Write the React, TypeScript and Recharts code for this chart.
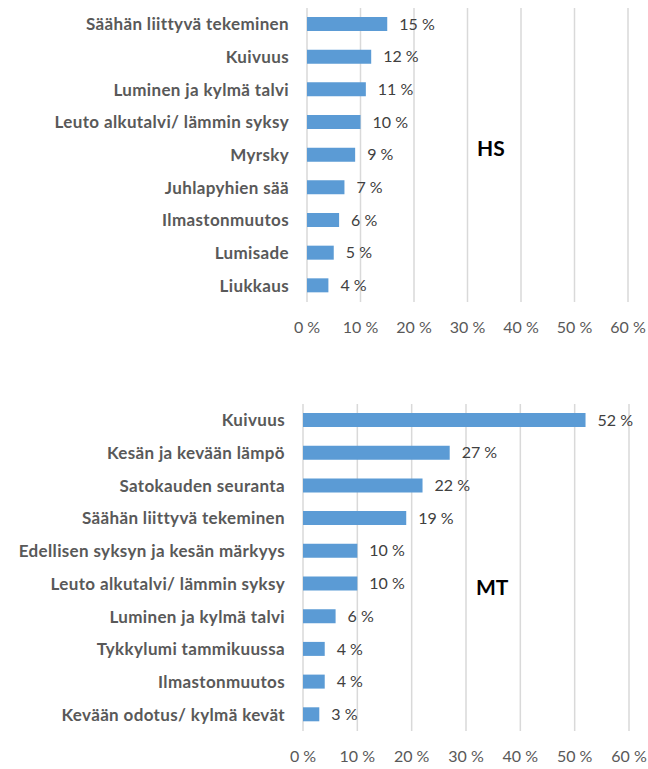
import { BarChart, Bar, XAxis, YAxis, CartesianGrid, LabelList } from 'recharts'

const hsCategories = [
  'Säähän liittyvä tekeminen',
  'Kuivuus',
  'Luminen ja kylmä talvi',
  'Leuto alkutalvi/ lämmin syksy',
  'Myrsky',
  'Juhlapyhien sää',
  'Ilmastonmuutos',
  'Lumisade',
  'Liukkaus',
]
const hsValues = [15, 12, 11, 10, 9, 7, 6, 5, 4]

const mtCategories = [
  'Kuivuus ',
  'Kesän ja kevään lämpö',
  'Satokauden seuranta',
  'Säähän liittyvä tekeminen',
  'Edellisen syksyn ja kesän märkyys',
  'Leuto alkutalvi/ lämmin syksy',
  'Luminen ja kylmä talvi',
  'Tykkylumi tammikuussa',
  'Ilmastonmuutos',
  'Kevään odotus/ kylmä kevät',
]
const mtValues = [52, 27, 22, 19, 10, 10, 6, 4, 4, 3]

const xTicks = [0, 10, 20, 30, 40, 50, 60]

const font = "Lato, 'Open Sans', sans-serif"
const barColor = '#5b9bd5'

function Panel({
  categories,
  values,
  height,
  marginTop,
  plotLeft,
  plotRight,
  tag,
  tagX,
  tagY,
}: {
  categories: string[]
  values: number[]
  height: number
  marginTop: number
  plotLeft: number
  plotRight: number
  tag: string
  tagX: number
  tagY: number
}) {
  const data = categories.map((name, i) => ({ name, value: values[i] }))
  return (
    <div style={{ position: 'relative', width: 648, height }}>
      <BarChart
        width={648}
        height={height}
        data={data}
        layout="vertical"
        margin={{ top: marginTop, right: 648 - plotRight, left: 0, bottom: 0 }}
      >
        <CartesianGrid horizontal={false} stroke="#d9d9d9" strokeWidth={1.5} />
        <XAxis
          type="number"
          domain={[0, 60]}
          ticks={xTicks}
          tickFormatter={(v) => `${v} %`}
          axisLine={false}
          tickLine={false}
          tickSize={8}
          tickMargin={12}
          height={38}
          interval={0}
          tick={{ fill: '#595959', fontSize: 16, fontFamily: font }}
        />
        <YAxis
          type="category"
          dataKey="name"
          width={plotLeft}
          axisLine={false}
          tickLine={false}
          tickSize={6}
          tickMargin={12}
          interval={0}
          tick={{ fill: '#595959', fontSize: 17, fontWeight: 'bold', fontFamily: font, letterSpacing: 0.35 }}
        />
        <Bar dataKey="value" fill={barColor} barSize={14} isAnimationActive={false}>
          <LabelList
            dataKey="value"
            position="right"
            offset={12}
            formatter={(v: any) => `${v} %`}
            style={{ fill: '#404040', fontSize: 16, fontFamily: font }}
          />
        </Bar>
      </BarChart>
      <div
        style={{
          position: 'absolute',
          left: tagX,
          top: tagY,
          fontFamily: font,
          fontWeight: 'bold',
          fontSize: 21,
          color: '#000',
        }}
      >
        {tag}
      </div>
    </div>
  )
}

export default function App() {
  return (
    <div style={{ position: 'absolute', left: 0, top: 0, width: 648, height: 769, background: '#fff' }}>
      <div style={{ position: 'absolute', left: 0, top: 0 }}>
        <Panel
          categories={hsCategories}
          values={hsValues}
          height={340}
          marginTop={8}
          plotLeft={307}
          plotRight={628}
          tag="HS"
          tagX={477}
          tagY={135}
        />
      </div>
      <div style={{ position: 'absolute', left: 0, top: 380 }}>
        <Panel
          categories={mtCategories}
          values={mtValues}
          height={389}
          marginTop={24}
          plotLeft={303}
          plotRight={629}
          tag="MT"
          tagX={476}
          tagY={194}
        />
      </div>
    </div>
  )
}
